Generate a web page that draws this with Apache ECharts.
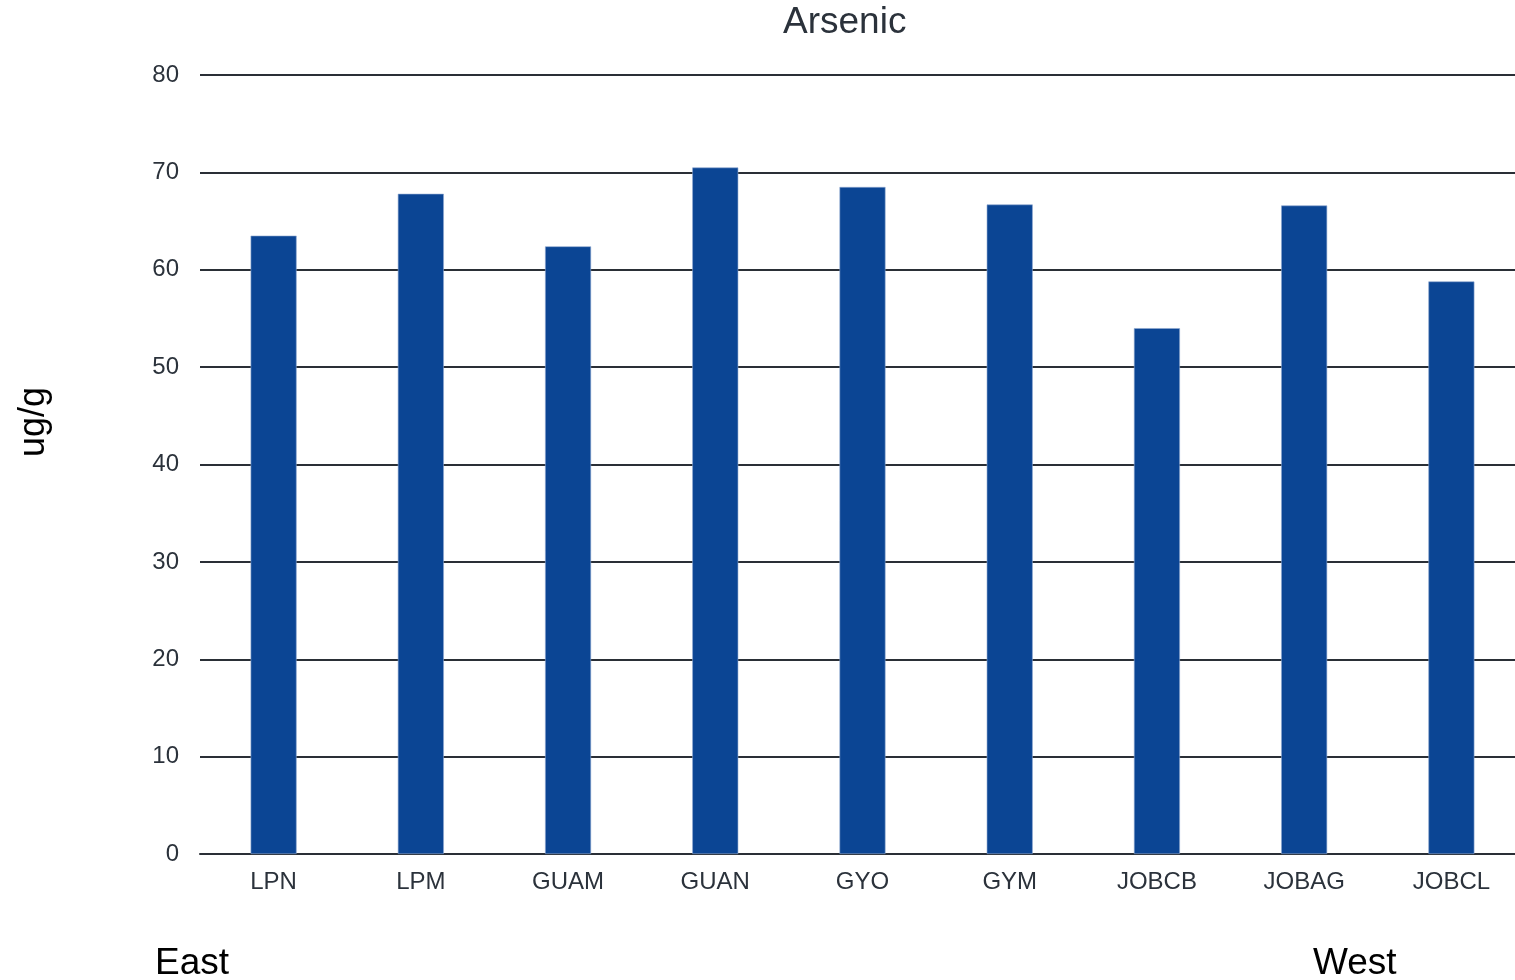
<!DOCTYPE html>
<html>
<head>
<meta charset="utf-8">
<script src="https://cdn.jsdelivr.net/npm/echarts@6/dist/echarts.min.js"></script>
<style>
html,body{margin:0;padding:0;background:#fff;overflow:hidden;}
#main{width:1525px;height:980px;}
</style>
</head>
<body>
<div id="main"></div>
<script>
const categories = ['LPN','LPM','GUAM','GUAN','GYO','GYM','JOBCB','JOBAG','JOBCL'];
const arsenic = [63.5, 67.8, 62.4, 70.5, 68.5, 66.7, 54.0, 66.6, 58.8];
const yTicks = [0,10,20,30,40,50,60,70,80];

const chart = echarts.init(document.getElementById('main'), null, {renderer:'canvas'});
const font = '"Liberation Sans", Arial, sans-serif';
chart.setOption({
  animation: false,
  backgroundColor: '#ffffff',
  grid: {left: 200, right: 0, top: 75, bottom: 126, containLabel: false},
  graphic: [
    {type:'text', left: 783, top: 4, style:{text:'Arsenic', font:'37px ' + font, fill:'#2b323b'}},
    {type:'text', x: 16, y: 457, rotation: Math.PI/2, style:{text:'ug/g', font:'36px ' + font, fill:'#000', textAlign:'left', textVerticalAlign:'top'}},
    {type:'text', left: 155, top: 945, style:{text:'East', font:'37px ' + font, fill:'#000'}},
    {type:'text', left: 1313, top: 945, style:{text:'West', font:'37px ' + font, fill:'#000'}}
  ],
  xAxis: {
    type: 'category',
    data: categories,
    axisLine: {show: true, lineStyle: {color:'#2a2f36', width: 2}},
    axisTick: {show: false},
    axisLabel: {color:'#2b323b', fontSize: 24, fontFamily: font, margin: 16}
  },
  yAxis: {
    type: 'value',
    min: yTicks[0], max: yTicks[yTicks.length-1], interval: 10,
    axisLine: {show: false},
    axisTick: {show: false},
    splitLine: {show: true, lineStyle: {color:'#2a2f36', width: 2}},
    axisLabel: {color:'#2b323b', fontSize: 24, fontFamily: font, margin: 21}
  },
  series: [{
    type: 'bar',
    data: arsenic,
    barWidth: 46,
    itemStyle: {color:'#0b4594', borderColor:'#8fa8d0', borderWidth: 0.6}
  }]
});
</script>
</body>
</html>
